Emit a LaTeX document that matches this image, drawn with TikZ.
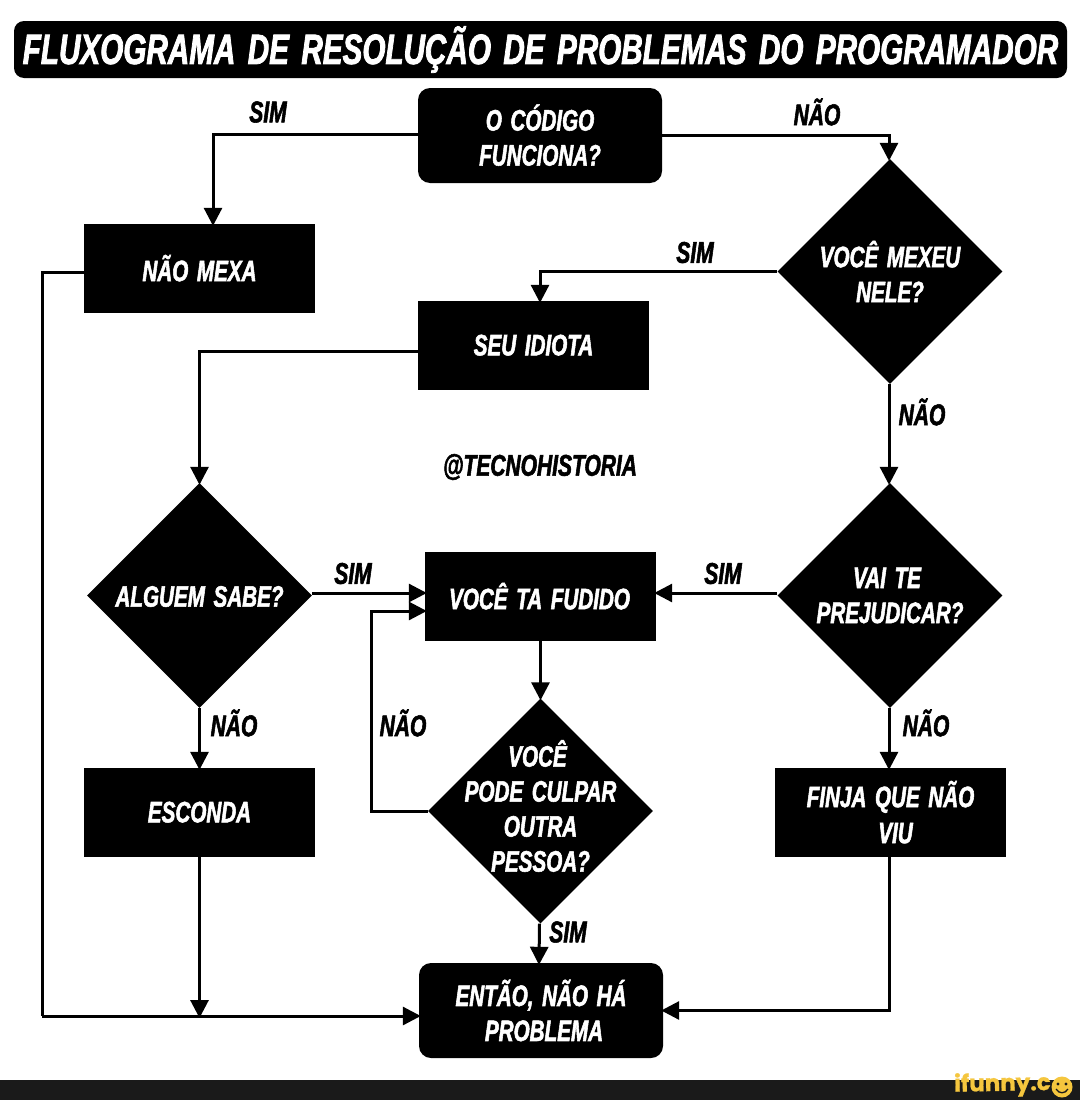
\documentclass[tikz,border=0pt]{standalone}
\usepackage{fontspec}
\usetikzlibrary{arrows.meta,shapes.geometric}
\newfontfamily\flfont[FakeStretch=0.70,FakeBold=1.8,WordSpace=1.5]{Liberation Sans}
\newfontfamily\logofont[FakeBold=1]{Poppins}
\definecolor{footer}{HTML}{1A1A1A}
\definecolor{logoy}{HTML}{F5C63E}
\tikzset{
  x=1pt,y=-1pt,
  boxtext/.style={text=white,align=center,font=\flfont\bfseries\itshape\fontsize{29.5}{35}\selectfont},
  sq/.style={fill=black,minimum width=231pt,minimum height=89pt,inner sep=0pt,boxtext},
  rd/.style={fill=black,rounded corners=12pt,minimum width=244pt,minimum height=95pt,inner sep=0pt,boxtext},
  dm/.style={diamond,fill=black,aspect=1,minimum width=225pt,minimum height=225pt,inner sep=0pt},
  lab/.style={text=black,inner sep=0pt,font=\flfont\bfseries\itshape\fontsize{30}{35}\selectfont},
  conn/.style={line width=3pt,shorten >=-2pt,-{Triangle[length=18pt,width=18pt]}},
  plain/.style={line width=3pt},
}
\begin{document}
\begin{tikzpicture}
\useasboundingbox (0,0) rectangle (1080,1100);
\fill[white] (0,0) rectangle (1080,1100);
\node[fill=black,rounded corners=10pt,minimum width=1053pt,minimum height=57pt,inner sep=0pt,text=white,font=\flfont\bfseries\itshape\fontsize{42.4}{50}\selectfont] (title) at (540.5,49.5) {\raisebox{2pt}{FLUXOGRAMA DE RESOLUÇÃO DE PROBLEMAS DO PROGRAMADOR}};
\node[rd] (code) at (540,135.5) {\raisebox{1pt}{O CÓDIGO}\\\raisebox{1pt}{FUNCIONA?}};
\node[sq] (nomexa) at (199.5,268.5) {\raisebox{1pt}{NÃO MEXA}};
\node[dm,label={[boxtext]center:VOCÊ MEXEU\\NELE?}] (mexeu) at (890,271.5) {};
\node[sq] (seu) at (533.5,345.5) {\raisebox{1pt}{SEU IDIOTA}};
\node[dm,label={[boxtext,yshift=-1pt]center:ALGUEM SABE?}] (alguem) at (199.5,595.5) {};
\node[sq] (fudido) at (540.5,596.5) {\raisebox{1pt}{\hspace*{-2pt}VOCÊ TA FUDIDO}};
\node[dm,label={[boxtext]center:VAI TE\hspace*{6pt}\\PREJUDICAR?}] (prej) at (890,595.5) {};
\node[dm,label={[boxtext,yshift=5pt]center:VOCÊ\hspace*{6pt}\\PODE CULPAR\\OUTRA\hspace*{10pt}\\PESSOA?}] (culpar) at (540.5,811) {};
\node[sq] (esconda) at (199.5,812.5) {\raisebox{1pt}{ESCONDA}};
\node[sq] (finja) at (890.5,812.5) {\raisebox{2pt}{FINJA QUE NÃO}\\\hspace*{10pt}\raisebox{1pt}{VIU}};
\node[rd] (entao) at (541,1010.5) {ENTÃO, NÃO HÁ\\\hspace*{6pt}PROBLEMA};
\coordinate (loopc) at (371,611);
\coordinate (leftc) at (42,1016);
\coordinate (junct) at (199.5,1016);
\draw[conn] ([yshift=1.5pt]code.west) -| ([xshift=13.5pt]nomexa.north);
\draw[conn] (code.east) -| ([xshift=-1pt]mexeu.north);
\draw[conn] (mexeu.west) -| ([xshift=6.5pt]seu.north);
\draw[conn] ([xshift=-1pt]mexeu.south) -- ([xshift=-1pt]prej.north);
\draw[conn] ([yshift=-5.5pt]seu.west) -| (alguem.north);
\draw[conn] ([yshift=2.5pt]alguem.east) -- ([yshift=3.5pt]fudido.west);
\draw[conn] ([yshift=2.5pt]prej.west) -- ([yshift=3.5pt]fudido.east);
\draw[conn] (fudido.south) -- (culpar.north);
\draw[conn] (culpar.west) -| (loopc) -- ([yshift=-14.5pt]fudido.west);
\draw[conn] (alguem.south) -- (esconda.north);
\draw[conn] ([xshift=-1pt]prej.south) -- ([xshift=-1.5pt]finja.north);
\draw[conn] ([xshift=-1pt]culpar.south) -- ([xshift=-2pt]entao.north);
\draw[conn] ([xshift=-1.5pt]finja.south) |- (entao.east);
\draw[conn] (esconda.south) -- (junct);
\draw[plain] ([yshift=-3.5pt]nomexa.west) -| (leftc);
\draw[conn] (leftc) -- ([yshift=-5.5pt]entao.west);
\node[lab] (l1) at (268,112) {SIM};
\node[lab] (l2) at (817,112) {NÃO};
\node[lab] (l3) at (695,252.5) {SIM};
\node[lab] (l4) at (922,412) {NÃO};
\node[lab] (l5) at (540,467) {@TECNOHISTORIA};
\node[lab] (l6) at (353,573.5) {SIM};
\node[lab] (l7) at (723,573.5) {SIM};
\node[lab] (l8) at (234,723) {NÃO};
\node[lab] (l9) at (403,723) {NÃO};
\node[lab] (l10) at (926,723) {NÃO};
\node[lab] (l11) at (568,932) {SIM};
\fill[footer] (0,1080) rectangle (1080,1100);
\begin{scope}
\clip (0,0) rectangle (1080,1100);
\node[inner sep=0pt,anchor=base east,text=logoy,font=\logofont\bfseries\fontsize{23}{23}\selectfont,rotate=1] (logo) at (1051,1090) {ifunny.c};
\fill[logoy] (1062,1087) circle (10.5);
\fill[footer] (1058,1084) circle (1.6) (1066,1084) circle (1.6);
\draw[footer,line width=1.3pt] (1056,1089) .. controls (1059,1094) and (1065,1094) .. (1068,1089);
\end{scope}
\end{tikzpicture}
\end{document}
